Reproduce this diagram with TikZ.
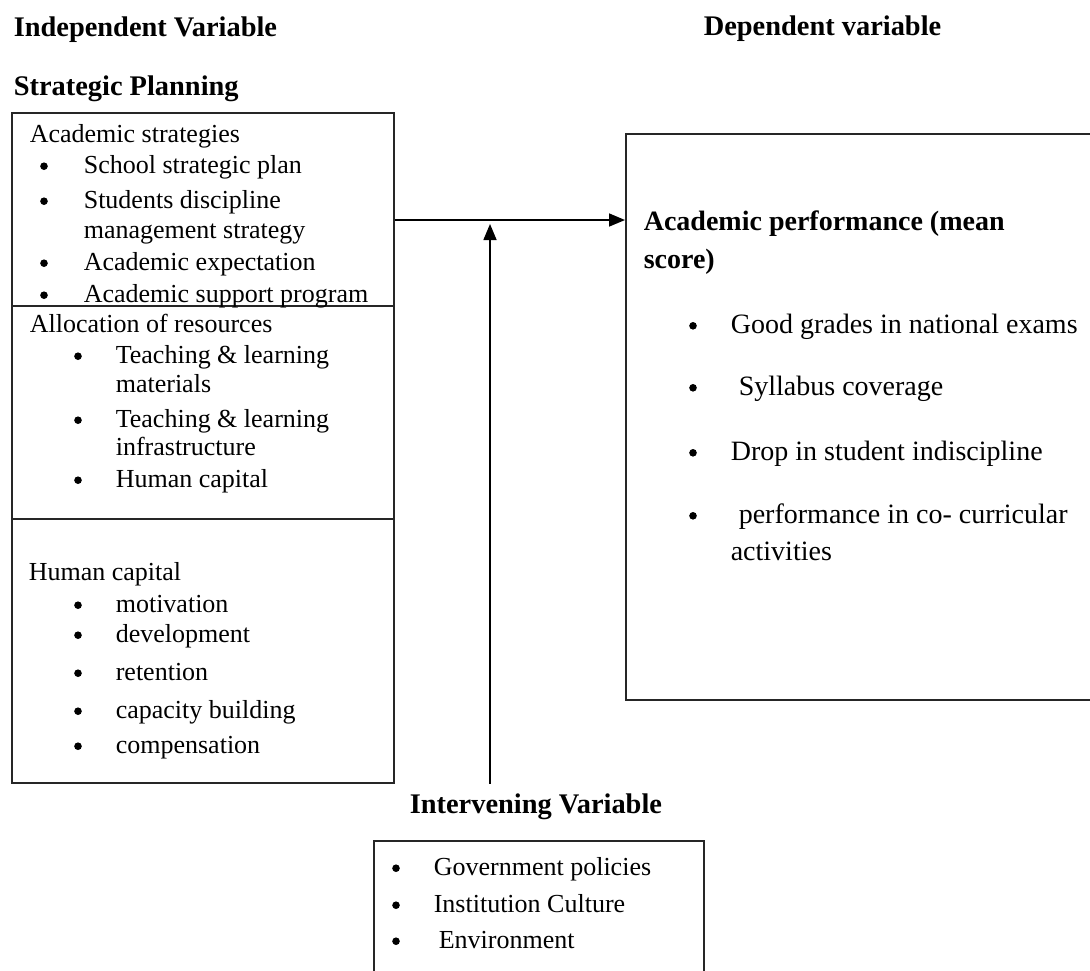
\documentclass[tikz,border=0pt]{standalone}
\usepackage{fontspec}
\setmainfont{Liberation Serif}
\usepackage{tikz}
\usetikzlibrary{arrows.meta,positioning}

\begin{document}
\begin{tikzpicture}[x=0.5pt, y=-0.5pt, >={Triangle[length=8pt,width=6.5pt]}, line width=0.8pt]

\tikzstyle{box}=[draw=black!85, line width=0.8pt, inner sep=0pt, anchor=north west]
\tikzstyle{head}=[anchor=base west, inner sep=0pt, font=\fontsize{14.2}{17}\selectfont\bfseries]
\tikzstyle{txt}=[anchor=base west, inner sep=0pt, font=\fontsize{13}{15}\selectfont]
\tikzstyle{big}=[anchor=base west, inner sep=0pt, font=\fontsize{14}{17}\selectfont]
\tikzstyle{dot}=[circle, fill=black, inner sep=0pt, minimum size=3.8pt, yshift=3.4pt]

\useasboundingbox (0,0) rectangle (1090,970);
\clip (0,0) rectangle (1090,970);

\node[head] (Indep) at (13,36) {Independent Variable};
\node[head] (Dep) at (703,35) {Dependent variable};
\node[head] (Plan) at (13,95) {Strategic Planning};
\node[head] (Interv) at (409,813) {Intervening Variable};

\node[box, minimum width=191pt, minimum height=335pt] (L) at (11,112) {};
\node[box, minimum width=237.5pt, minimum height=283pt] (R) at (625,133) {};
\node[box, minimum width=165pt, minimum height=75pt] (B) at (373,840) {};

\draw[black!85] ([yshift=-97pt]L.north west) -- ([yshift=-97pt]L.north east);
\draw[black!85] ([yshift=-203.5pt]L.north west) -- ([yshift=-203.5pt]L.north east);

% academic strategies
\node[txt] (Acad) at (29,142) {Academic strategies};
\foreach \y/\t [count=\i] in {173/School strategic plan, 208/Students discipline,
    270/Academic expectation, 302/Academic support program} {
  \node[dot] (a\i) at (44,\y) {};
  \node[txt] (at\i) at (83,\y) {\t};
}
\node[txt] (at2b) at (83,238) {management strategy};

% allocation of resources
\node[txt] (Alloc) at (29,332) {Allocation of resources};
\foreach \y/\t [count=\i] in {363/Teaching \& learning, 427/Teaching \& learning,
    487/Human capital} {
  \node[dot] (r\i) at (78,\y) {};
  \node[txt] (rt\i) at (115,\y) {\t};
}
\node[txt] (rt1b) at (115,392) {materials};
\node[txt] (rt2b) at (115,455) {infrastructure};

% human capital
\node[txt] (Hum) at (28,580) {Human capital};
\foreach \y/\t [count=\i] in {612/motivation, 642/development, 680/retention,
    718/capacity building, 753/compensation} {
  \node[dot] (h\i) at (78,\y) {};
  \node[txt] (ht\i) at (115,\y) {\t};
}

% dependent
\node[head, font=\fontsize{14}{17}\selectfont\bfseries] (Perf) at (643,230) {Academic performance (mean};
\node[head, font=\fontsize{14}{17}\selectfont\bfseries] (Perfb) at (643,268) {score)};
\foreach \y/\x/\t [count=\i] in {333/730/Good grades in national exams,
    395/738/Syllabus coverage, 460/730/Drop in student indiscipline,
    523/738/performance in co- curricular} {
  \node[dot, yshift=0.2pt] (d\i) at (693,\y) {};
  \node[big] (dt\i) at (\x,\y) {\t};
}
\node[big] (dt4b) at (730,560) {activities};

% intervening
\foreach \y/\x/\t [count=\i] in {875/433/Government policies,
    912/433/Institution Culture, 948/438/Environment} {
  \node[dot] (v\i) at (396,\y) {};
  \node[txt] (vt\i) at (\x,\y) {\t};
}

\coordinate (J) at (490,220);
\draw[->] (J -| L.east) -- (J -| R.west);
\draw[->] (L.south -| J) -- ([yshift=-2pt]J);

\end{tikzpicture}
\end{document}
